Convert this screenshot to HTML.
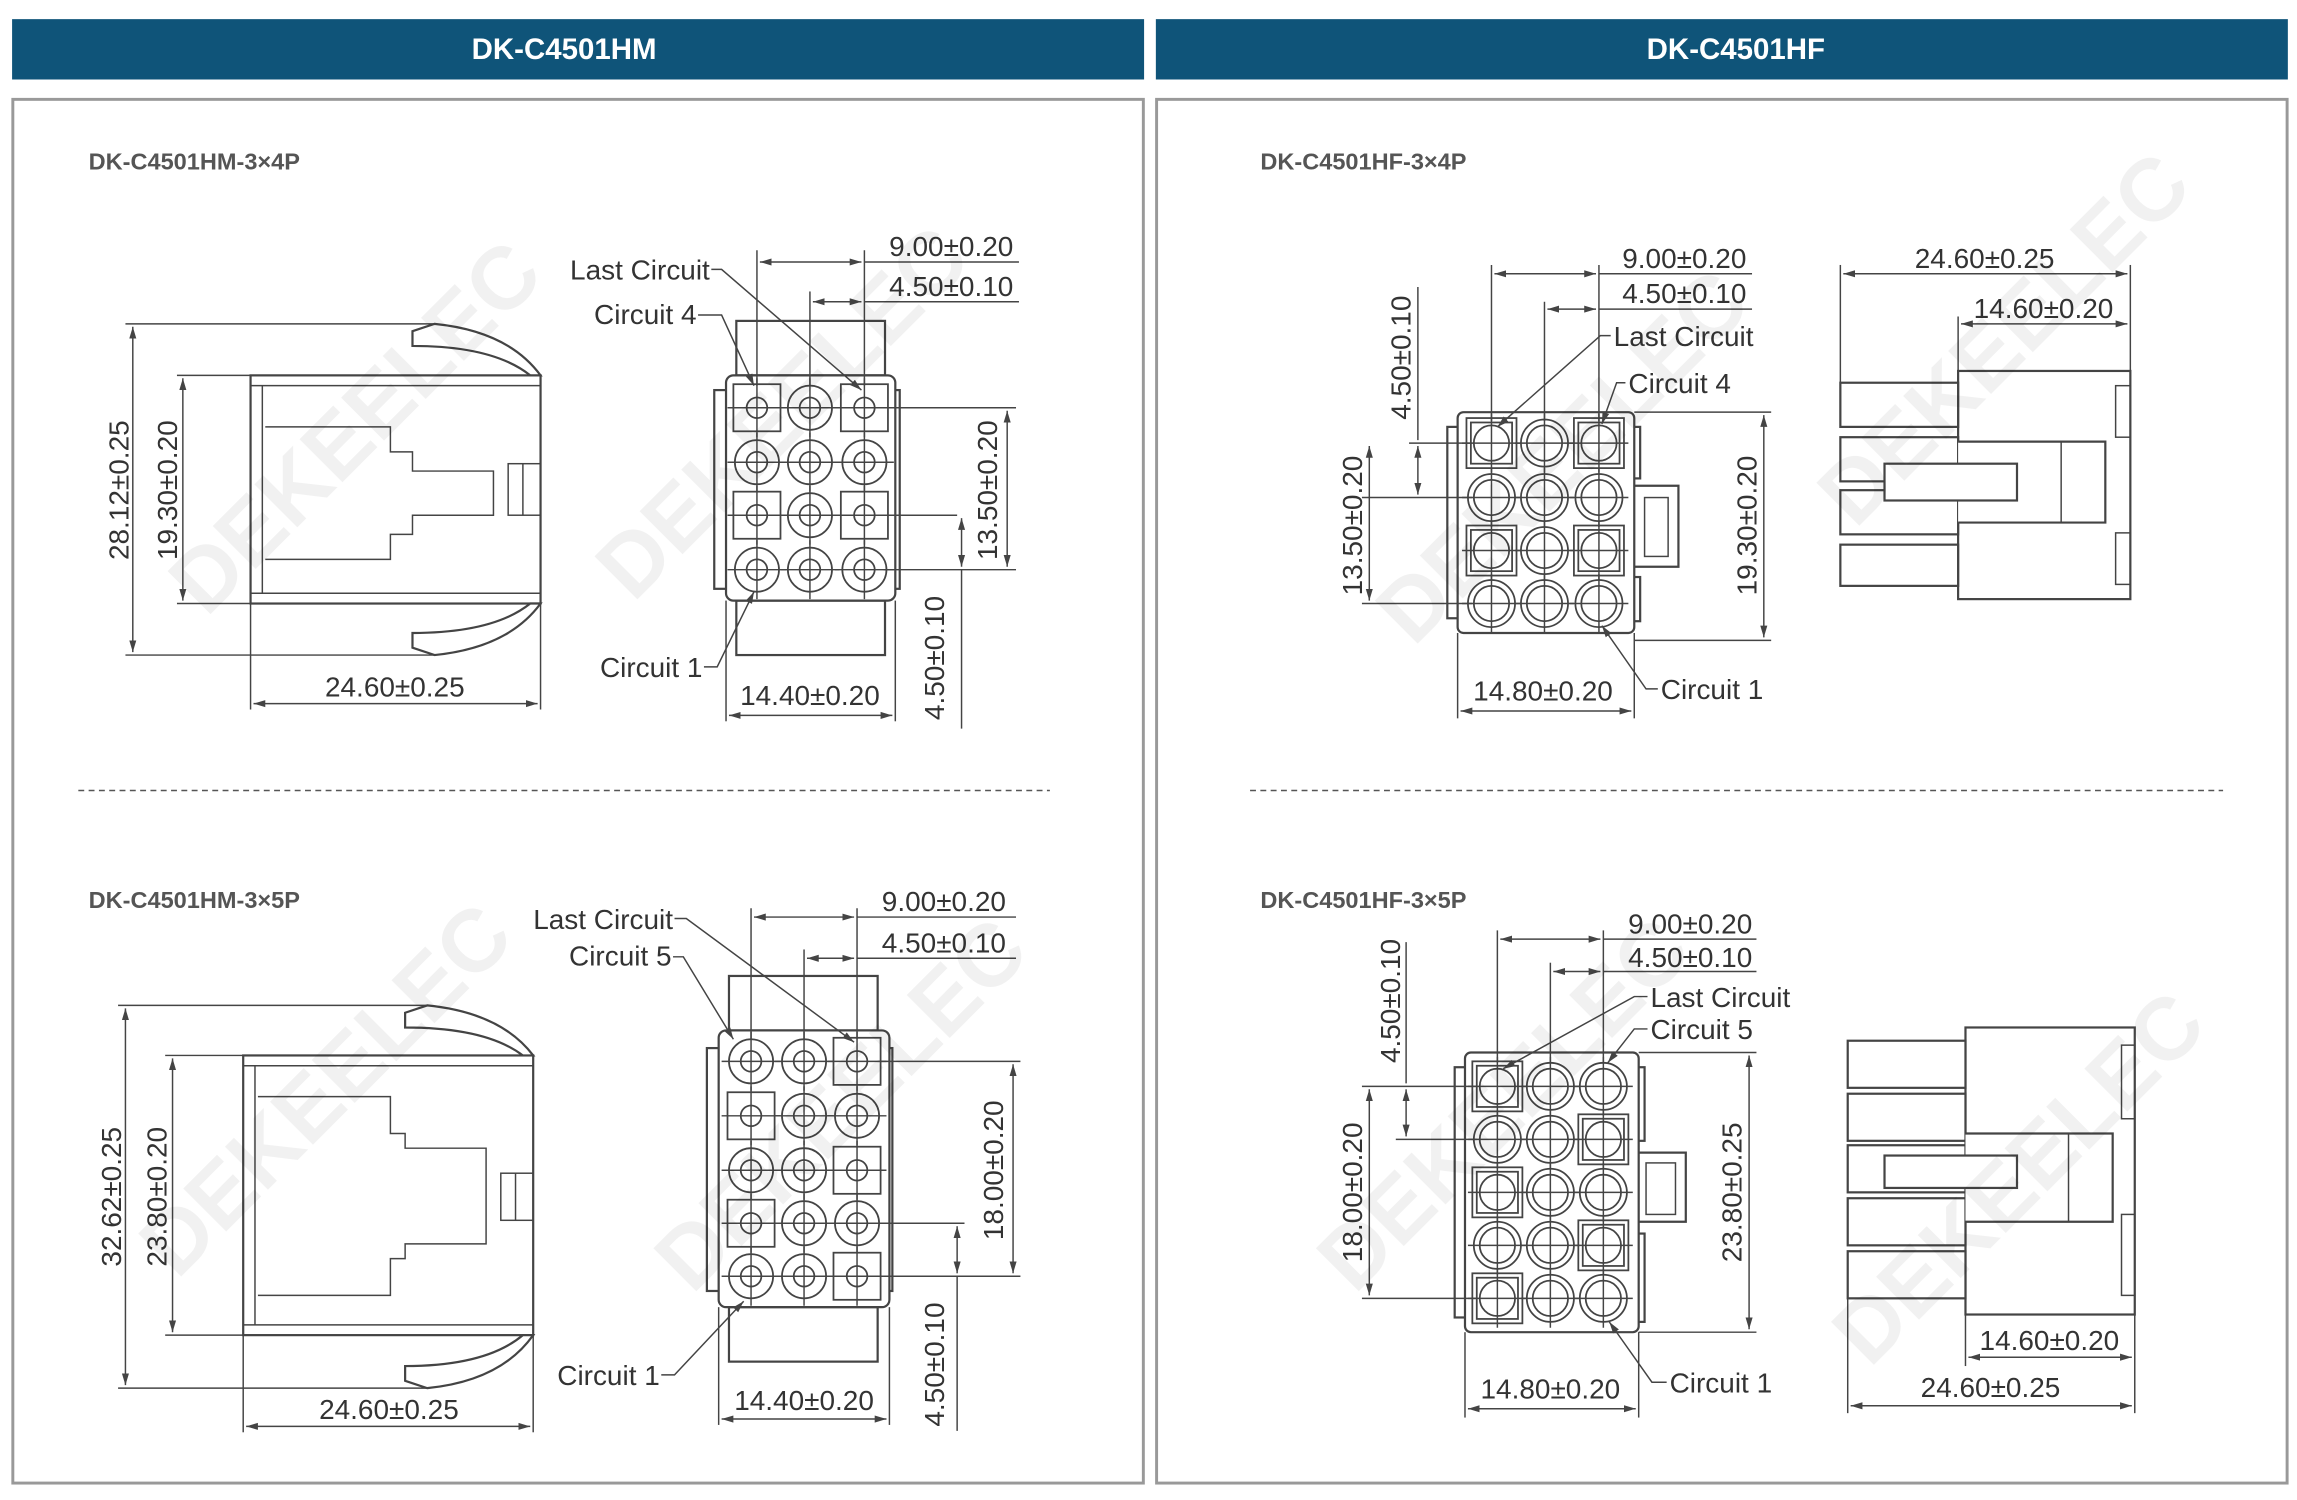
<!DOCTYPE html>
<html><head><meta charset="utf-8"><style>
html,body{margin:0;padding:0;background:#fff}
svg{display:block}
.t{font-family:"Liberation Sans Narrow","Liberation Sans",sans-serif;font-size:19px;fill:#333}
.h{font-family:"Liberation Sans",sans-serif;font-weight:bold;font-size:20px;fill:#fff}
.s{font-family:"Liberation Sans",sans-serif;font-weight:bold;font-size:16px;fill:#555}
.w{font-family:"Liberation Sans",sans-serif;font-weight:bold;font-size:60px;fill:#000;opacity:0.05}
.l{stroke:#444;stroke-width:1.2;fill:none}
.d{stroke:#444;stroke-width:1;fill:none}
.b{stroke:#444;stroke-width:1.5;fill:#fff}
</style></head><body>
<svg width="2297" height="1500" viewBox="0 0 1560 1019" xmlns="http://www.w3.org/2000/svg">
<defs>
<marker id="a" viewBox="0 0 10 10" refX="10" refY="5" markerWidth="8" markerHeight="8" orient="auto-start-reverse"><path d="M0,2 L10,5 L0,8z" fill="#444"/></marker>
<g id="pm"><circle r="15" class="l"/><circle r="7" class="l"/><path d="M-20,0H20M0,-20V20" class="d"/></g>
<g id="sm"><rect x="-16" y="-16" width="32" height="32" class="l"/><circle r="7" class="l"/><path d="M-20,0H20M0,-20V20" class="d"/></g>
<g id="pf"><circle r="16" class="l"/><circle r="12" class="l"/><path d="M-20,0H20M0,-20V20" class="d"/></g>
<g id="sf"><rect x="-17" y="-17" width="34" height="34" class="l"/><rect x="-14" y="-14" width="28" height="28" class="l"/><circle r="12" class="l"/><path d="M-20,0H20M0,-20V20" class="d"/></g>
</defs>
<rect width="1560" height="1019" fill="#fff"/>
<!-- headers -->
<rect x="8" y="13" width="769" height="41" fill="#0f5479"/>
<rect x="785" y="13" width="769" height="41" fill="#0f5479"/>
<text class="h" x="383" y="40" text-anchor="middle">DK-C4501HM</text>
<text class="h" x="1179" y="40" text-anchor="middle">DK-C4501HF</text>
<rect x="8.5" y="67.5" width="768" height="940" fill="none" stroke="#999" stroke-width="2"/>
<rect x="785.5" y="67.5" width="768" height="940" fill="none" stroke="#999" stroke-width="2"/>
<line x1="53" y1="537" x2="713" y2="537" stroke="#555" stroke-dasharray="4,3"/>
<line x1="849" y1="537" x2="1510" y2="537" stroke="#555" stroke-dasharray="4,3"/>
<text class="s" x="60" y="115">DK-C4501HM-3×4P</text>
<text class="s" x="60" y="617">DK-C4501HM-3×5P</text>
<text class="s" x="856" y="115">DK-C4501HF-3×4P</text>
<text class="s" x="856" y="617">DK-C4501HF-3×5P</text>

<!-- ===== HM 3x4 side ===== -->
<g>
<rect x="170" y="255" width="197" height="155" class="b"/>
<line x1="170" y1="262" x2="367" y2="262" class="d"/><line x1="170" y1="403" x2="367" y2="403" class="d"/>
<path d="M178,262V403" class="d"/>
<path d="M180,290H265V307H280V320H335V350H280V363H265V380H180" class="d"/>
<rect x="345" y="315" width="22" height="35" class="d"/><line x1="355" y1="315" x2="355" y2="350" class="d"/>
<path d="M280,225L295,220Q345,225 367,255H360Q335,235 280,235Z" class="b"/>
<path d="M280,440L295,445Q345,440 367,410H360Q335,430 280,430Z" class="b"/>
<line x1="85" y1="220" x2="295" y2="220" class="d"/><line x1="85" y1="445" x2="295" y2="445" class="d"/>
<line x1="90" y1="222" x2="90" y2="443" class="d" marker-start="url(#a)" marker-end="url(#a)"/>
<line x1="120" y1="255" x2="170" y2="255" class="d"/><line x1="120" y1="410" x2="170" y2="410" class="d"/>
<line x1="124" y1="257" x2="124" y2="408" class="d" marker-start="url(#a)" marker-end="url(#a)"/>
<text class="t" transform="translate(87,333) rotate(-90)" text-anchor="middle">28.12±0.25</text>
<text class="t" transform="translate(120,333) rotate(-90)" text-anchor="middle">19.30±0.20</text>
<line x1="170" y1="410" x2="170" y2="482" class="d"/><line x1="367" y1="410" x2="367" y2="482" class="d"/>
<line x1="172" y1="478" x2="365" y2="478" class="d" marker-start="url(#a)" marker-end="url(#a)"/>
<text class="t" x="268" y="473" text-anchor="middle">24.60±0.25</text>
</g>
<!-- HM 3x4 front -->
<g>
<rect x="500" y="218" width="101" height="37" class="b"/>
<rect x="500" y="408" width="101" height="37" class="b"/>
<rect x="485" y="265" width="10" height="135" class="b"/>
<rect x="605" y="265" width="6" height="135" class="b"/>
<rect x="493" y="255" width="115" height="153" rx="5" class="b"/>
<use href="#sm" x="514" y="277"/><use href="#pm" x="550" y="277"/><use href="#sm" x="587" y="277"/>
<use href="#pm" x="514" y="314"/><use href="#pm" x="550" y="314"/><use href="#pm" x="587" y="314"/>
<use href="#sm" x="514" y="350"/><use href="#pm" x="550" y="350"/><use href="#sm" x="587" y="350"/>
<use href="#pm" x="514" y="387"/><use href="#pm" x="550" y="387"/><use href="#pm" x="587" y="387"/>
<line x1="514" y1="170" x2="514" y2="262" class="d"/><line x1="587" y1="170" x2="587" y2="262" class="d"/><line x1="550" y1="198" x2="550" y2="262" class="d"/>
<line x1="516" y1="178" x2="585" y2="178" class="d" marker-start="url(#a)" marker-end="url(#a)"/><line x1="587" y1="178" x2="692" y2="178" class="d"/>
<line x1="552" y1="205" x2="585" y2="205" class="d" marker-start="url(#a)" marker-end="url(#a)"/><line x1="587" y1="205" x2="692" y2="205" class="d"/>
<text class="t" x="646" y="174" text-anchor="middle">9.00±0.20</text>
<text class="t" x="646" y="201" text-anchor="middle">4.50±0.10</text>
<line x1="600" y1="277" x2="690" y2="277" class="d"/><line x1="600" y1="387" x2="690" y2="387" class="d"/><line x1="600" y1="350" x2="650" y2="350" class="d"/>
<line x1="684" y1="279" x2="684" y2="385" class="d" marker-start="url(#a)" marker-end="url(#a)"/>
<line x1="653" y1="352" x2="653" y2="385" class="d" marker-start="url(#a)" marker-end="url(#a)"/><line x1="653" y1="387" x2="653" y2="495" class="d"/>
<text class="t" transform="translate(677,333) rotate(-90)" text-anchor="middle">13.50±0.20</text>
<text class="t" transform="translate(641,447) rotate(-90)" text-anchor="middle">4.50±0.10</text>
<line x1="493" y1="408" x2="493" y2="490" class="d"/><line x1="608" y1="408" x2="608" y2="490" class="d"/>
<line x1="495" y1="486" x2="606" y2="486" class="d" marker-start="url(#a)" marker-end="url(#a)"/>
<text class="t" x="550" y="479" text-anchor="middle">14.40±0.20</text>
<text class="t" x="482" y="190" text-anchor="end">Last Circuit</text><path d="M483,183H490L585,265" class="d" marker-end="url(#a)"/>
<text class="t" x="473" y="220" text-anchor="end">Circuit 4</text><path d="M474,214H490L512,262" class="d" marker-end="url(#a)"/>
<text class="t" x="477" y="460" text-anchor="end">Circuit 1</text><path d="M478,453H487L512,402" class="d" marker-end="url(#a)"/>
</g>

<!-- ===== HM 3x5 side ===== -->
<g>
<rect x="165" y="717" width="197" height="190" class="b"/>
<line x1="165" y1="724" x2="362" y2="724" class="d"/><line x1="165" y1="900" x2="362" y2="900" class="d"/>
<path d="M173,724V900" class="d"/>
<path d="M175,745H265V770H275V780H330V845H275V855H265V880H175" class="d"/>
<rect x="340" y="797" width="22" height="32" class="d"/><line x1="350" y1="797" x2="350" y2="829" class="d"/>
<path d="M275,688L290,683Q340,688 362,717H355Q330,698 275,698Z" class="b"/>
<path d="M275,938L290,943Q340,938 362,907H355Q330,928 275,928Z" class="b"/>
<line x1="80" y1="683" x2="290" y2="683" class="d"/><line x1="80" y1="943" x2="290" y2="943" class="d"/>
<line x1="85" y1="685" x2="85" y2="941" class="d" marker-start="url(#a)" marker-end="url(#a)"/>
<line x1="112" y1="717" x2="165" y2="717" class="d"/><line x1="112" y1="907" x2="165" y2="907" class="d"/>
<line x1="117" y1="719" x2="117" y2="905" class="d" marker-start="url(#a)" marker-end="url(#a)"/>
<text class="t" transform="translate(82,813) rotate(-90)" text-anchor="middle">32.62±0.25</text>
<text class="t" transform="translate(113,813) rotate(-90)" text-anchor="middle">23.80±0.20</text>
<line x1="165" y1="907" x2="165" y2="973" class="d"/><line x1="362" y1="907" x2="362" y2="973" class="d"/>
<line x1="167" y1="969" x2="360" y2="969" class="d" marker-start="url(#a)" marker-end="url(#a)"/>
<text class="t" x="264" y="964" text-anchor="middle">24.60±0.25</text>
</g>
<!-- HM 3x5 front -->
<g>
<rect x="495" y="663" width="101" height="37" class="b"/>
<rect x="495" y="888" width="101" height="37" class="b"/>
<rect x="480" y="712" width="10" height="165" class="b"/>
<rect x="600" y="712" width="6" height="165" class="b"/>
<rect x="488" y="700" width="116" height="188" rx="5" class="b"/>
<use href="#pm" x="510" y="721"/><use href="#pm" x="546" y="721"/><use href="#sm" x="582" y="721"/>
<use href="#sm" x="510" y="758"/><use href="#pm" x="546" y="758"/><use href="#pm" x="582" y="758"/>
<use href="#pm" x="510" y="795"/><use href="#pm" x="546" y="795"/><use href="#sm" x="582" y="795"/>
<use href="#sm" x="510" y="831"/><use href="#pm" x="546" y="831"/><use href="#pm" x="582" y="831"/>
<use href="#pm" x="510" y="867"/><use href="#pm" x="546" y="867"/><use href="#sm" x="582" y="867"/>
<line x1="510" y1="617" x2="510" y2="706" class="d"/><line x1="582" y1="617" x2="582" y2="706" class="d"/><line x1="546" y1="645" x2="546" y2="706" class="d"/>
<line x1="512" y1="623" x2="580" y2="623" class="d" marker-start="url(#a)" marker-end="url(#a)"/><line x1="582" y1="623" x2="690" y2="623" class="d"/>
<line x1="548" y1="651" x2="580" y2="651" class="d" marker-start="url(#a)" marker-end="url(#a)"/><line x1="582" y1="651" x2="690" y2="651" class="d"/>
<text class="t" x="641" y="619" text-anchor="middle">9.00±0.20</text>
<text class="t" x="641" y="647" text-anchor="middle">4.50±0.10</text>
<line x1="596" y1="721" x2="693" y2="721" class="d"/><line x1="596" y1="867" x2="693" y2="867" class="d"/><line x1="596" y1="831" x2="655" y2="831" class="d"/>
<line x1="688" y1="723" x2="688" y2="865" class="d" marker-start="url(#a)" marker-end="url(#a)"/>
<line x1="650" y1="833" x2="650" y2="865" class="d" marker-start="url(#a)" marker-end="url(#a)"/><line x1="650" y1="867" x2="650" y2="972" class="d"/>
<text class="t" transform="translate(681,795) rotate(-90)" text-anchor="middle">18.00±0.20</text>
<text class="t" transform="translate(641,927) rotate(-90)" text-anchor="middle">4.50±0.10</text>
<line x1="488" y1="888" x2="488" y2="968" class="d"/><line x1="604" y1="888" x2="604" y2="968" class="d"/>
<line x1="490" y1="964" x2="602" y2="964" class="d" marker-start="url(#a)" marker-end="url(#a)"/>
<text class="t" x="546" y="958" text-anchor="middle">14.40±0.20</text>
<text class="t" x="457" y="631" text-anchor="end">Last Circuit</text><path d="M458,624H466L580,708" class="d" marker-end="url(#a)"/>
<text class="t" x="456" y="656" text-anchor="end">Circuit 5</text><path d="M457,650H464L498,706" class="d" marker-end="url(#a)"/>
<text class="t" x="448" y="941" text-anchor="end">Circuit 1</text><path d="M449,934H458L505,884" class="d" marker-end="url(#a)"/>
</g>

<!-- ===== HF 3x4 front ===== -->
<g>
<rect x="983" y="290" width="8" height="130" class="b"/>
<rect x="1108" y="290" width="6" height="35" class="b"/><rect x="1108" y="392" width="6" height="30" class="b"/>
<path d="M1110,330H1140V385H1110" class="b"/><rect x="1117" y="338" width="16" height="40" class="d"/>
<rect x="990" y="280" width="120" height="150" rx="4" class="b"/>
<use href="#sf" x="1013" y="301"/><use href="#pf" x="1049" y="301"/><use href="#sf" x="1086" y="301"/>
<use href="#pf" x="1013" y="338"/><use href="#pf" x="1049" y="338"/><use href="#pf" x="1086" y="338"/>
<use href="#sf" x="1013" y="374"/><use href="#pf" x="1049" y="374"/><use href="#sf" x="1086" y="374"/>
<use href="#pf" x="1013" y="410"/><use href="#pf" x="1049" y="410"/><use href="#pf" x="1086" y="410"/>
<line x1="1013" y1="180" x2="1013" y2="286" class="d"/><line x1="1086" y1="180" x2="1086" y2="286" class="d"/><line x1="1049" y1="205" x2="1049" y2="286" class="d"/>
<line x1="1015" y1="186" x2="1084" y2="186" class="d" marker-start="url(#a)" marker-end="url(#a)"/><line x1="1086" y1="186" x2="1190" y2="186" class="d"/>
<line x1="1051" y1="210" x2="1084" y2="210" class="d" marker-start="url(#a)" marker-end="url(#a)"/><line x1="1086" y1="210" x2="1190" y2="210" class="d"/>
<text class="t" x="1144" y="182" text-anchor="middle">9.00±0.20</text>
<text class="t" x="1144" y="206" text-anchor="middle">4.50±0.10</text>
<line x1="963" y1="195" x2="963" y2="299" class="d"/><line x1="963" y1="303" x2="963" y2="336" class="d" marker-start="url(#a)" marker-end="url(#a)"/>
<line x1="957" y1="301" x2="1000" y2="301" class="d"/><line x1="925" y1="338" x2="1000" y2="338" class="d"/>
<line x1="925" y1="410" x2="1000" y2="410" class="d"/>
<line x1="930" y1="303" x2="930" y2="408" class="d" marker-start="url(#a)" marker-end="url(#a)"/>
<text class="t" transform="translate(958,243) rotate(-90)" text-anchor="middle">4.50±0.10</text>
<text class="t" transform="translate(925,357) rotate(-90)" text-anchor="middle">13.50±0.20</text>
<line x1="1110" y1="280" x2="1203" y2="280" class="d"/><line x1="1110" y1="435" x2="1203" y2="435" class="d"/>
<line x1="1198" y1="282" x2="1198" y2="433" class="d" marker-start="url(#a)" marker-end="url(#a)"/>
<text class="t" transform="translate(1193,357) rotate(-90)" text-anchor="middle">19.30±0.20</text>
<line x1="990" y1="430" x2="990" y2="488" class="d"/><line x1="1110" y1="430" x2="1110" y2="488" class="d"/>
<line x1="992" y1="483" x2="1108" y2="483" class="d" marker-start="url(#a)" marker-end="url(#a)"/>
<text class="t" x="1048" y="476" text-anchor="middle">14.80±0.20</text>
<text class="t" x="1096" y="235">Last Circuit</text><path d="M1094,228H1087L1017,290" class="d" marker-end="url(#a)"/>
<text class="t" x="1106" y="267">Circuit 4</text><path d="M1104,260H1098L1088,288" class="d" marker-end="url(#a)"/>
<text class="t" x="1128" y="475">Circuit 1</text><path d="M1126,468H1118L1088,425" class="d" marker-end="url(#a)"/>
</g>
<!-- HF 3x4 side -->
<g>
<rect x="1330" y="252" width="117" height="155" class="b"/>
<rect x="1437" y="262" width="10" height="35" class="d"/><rect x="1437" y="362" width="10" height="35" class="d"/>
<rect x="1250" y="260" width="80" height="30" class="b"/><rect x="1250" y="297" width="80" height="30" class="b"/>
<rect x="1250" y="333" width="80" height="30" class="b"/><rect x="1250" y="370" width="80" height="28" class="b"/>
<path d="M1330,300H1430V355H1330" class="b"/><rect x="1280" y="315" width="90" height="25" class="b"/>
<line x1="1400" y1="300" x2="1400" y2="355" class="d"/>
<line x1="1250" y1="180" x2="1250" y2="260" class="d"/><line x1="1447" y1="180" x2="1447" y2="252" class="d"/><line x1="1330" y1="215" x2="1330" y2="252" class="d"/>
<line x1="1252" y1="186" x2="1445" y2="186" class="d" marker-start="url(#a)" marker-end="url(#a)"/>
<line x1="1332" y1="220" x2="1445" y2="220" class="d" marker-start="url(#a)" marker-end="url(#a)"/>
<text class="t" x="1348" y="182" text-anchor="middle">24.60±0.25</text>
<text class="t" x="1388" y="216" text-anchor="middle">14.60±0.20</text>
</g>

<!-- ===== HF 3x5 front ===== -->
<g>
<rect x="988" y="725" width="8" height="170" class="b"/>
<rect x="1111" y="725" width="6" height="50" class="b"/><rect x="1111" y="838" width="6" height="60" class="b"/>
<path d="M1113,783H1145V830H1113" class="b"/><rect x="1118" y="790" width="20" height="35" class="d"/>
<rect x="995" y="715" width="118" height="190" rx="4" class="b"/>
<use href="#sf" x="1017" y="738"/><use href="#pf" x="1053" y="738"/><use href="#pf" x="1089" y="738"/>
<use href="#pf" x="1017" y="774"/><use href="#pf" x="1053" y="774"/><use href="#sf" x="1089" y="774"/>
<use href="#sf" x="1017" y="810"/><use href="#pf" x="1053" y="810"/><use href="#pf" x="1089" y="810"/>
<use href="#pf" x="1017" y="846"/><use href="#pf" x="1053" y="846"/><use href="#sf" x="1089" y="846"/>
<use href="#sf" x="1017" y="882"/><use href="#pf" x="1053" y="882"/><use href="#pf" x="1089" y="882"/>
<line x1="1017" y1="632" x2="1017" y2="722" class="d"/><line x1="1089" y1="632" x2="1089" y2="722" class="d"/><line x1="1053" y1="654" x2="1053" y2="722" class="d"/>
<line x1="1019" y1="638" x2="1087" y2="638" class="d" marker-start="url(#a)" marker-end="url(#a)"/><line x1="1089" y1="638" x2="1193" y2="638" class="d"/>
<line x1="1055" y1="660" x2="1087" y2="660" class="d" marker-start="url(#a)" marker-end="url(#a)"/><line x1="1089" y1="660" x2="1193" y2="660" class="d"/>
<text class="t" x="1148" y="634" text-anchor="middle">9.00±0.20</text>
<text class="t" x="1148" y="657" text-anchor="middle">4.50±0.10</text>
<line x1="955" y1="640" x2="955" y2="736" class="d"/><line x1="955" y1="740" x2="955" y2="772" class="d" marker-start="url(#a)" marker-end="url(#a)"/>
<line x1="925" y1="738" x2="1003" y2="738" class="d"/><line x1="948" y1="774" x2="1003" y2="774" class="d"/>
<line x1="925" y1="882" x2="1003" y2="882" class="d"/>
<line x1="930" y1="740" x2="930" y2="880" class="d" marker-start="url(#a)" marker-end="url(#a)"/>
<text class="t" transform="translate(951,680) rotate(-90)" text-anchor="middle">4.50±0.10</text>
<text class="t" transform="translate(925,810) rotate(-90)" text-anchor="middle">18.00±0.20</text>
<line x1="1113" y1="715" x2="1193" y2="715" class="d"/><line x1="1113" y1="905" x2="1193" y2="905" class="d"/>
<line x1="1188" y1="717" x2="1188" y2="903" class="d" marker-start="url(#a)" marker-end="url(#a)"/>
<text class="t" transform="translate(1183,810) rotate(-90)" text-anchor="middle">23.80±0.25</text>
<line x1="995" y1="905" x2="995" y2="963" class="d"/><line x1="1113" y1="905" x2="1113" y2="963" class="d"/>
<line x1="997" y1="957" x2="1111" y2="957" class="d" marker-start="url(#a)" marker-end="url(#a)"/>
<text class="t" x="1053" y="950" text-anchor="middle">14.80±0.20</text>
<text class="t" x="1121" y="684">Last Circuit</text><path d="M1119,677H1110L1021,726" class="d" marker-end="url(#a)"/>
<text class="t" x="1121" y="706">Circuit 5</text><path d="M1119,699H1110L1092,722" class="d" marker-end="url(#a)"/>
<text class="t" x="1134" y="946">Circuit 1</text><path d="M1132,939H1122L1093,898" class="d" marker-end="url(#a)"/>
</g>
<!-- HF 3x5 side -->
<g>
<rect x="1335" y="698" width="115" height="195" class="b"/>
<rect x="1441" y="710" width="9" height="50" class="d"/><rect x="1441" y="825" width="9" height="55" class="d"/>
<rect x="1255" y="707" width="80" height="32" class="b"/><rect x="1255" y="743" width="80" height="32" class="b"/>
<rect x="1255" y="778" width="80" height="32" class="b"/><rect x="1255" y="814" width="80" height="32" class="b"/>
<rect x="1255" y="850" width="80" height="32" class="b"/>
<path d="M1335,770H1435V830H1335" class="b"/><rect x="1280" y="785" width="90" height="22" class="b"/>
<line x1="1405" y1="770" x2="1405" y2="830" class="d"/>
<line x1="1255" y1="882" x2="1255" y2="960" class="d"/><line x1="1450" y1="893" x2="1450" y2="960" class="d"/><line x1="1335" y1="893" x2="1335" y2="928" class="d"/>
<line x1="1337" y1="922" x2="1448" y2="922" class="d" marker-start="url(#a)" marker-end="url(#a)"/>
<line x1="1257" y1="955" x2="1448" y2="955" class="d" marker-start="url(#a)" marker-end="url(#a)"/>
<text class="t" x="1392" y="917" text-anchor="middle">14.60±0.20</text>
<text class="t" x="1352" y="949" text-anchor="middle">24.60±0.25</text>
</g>

<!-- watermarks -->
<text class="w" transform="translate(140,420) rotate(-45)">DEKEELEC</text>
<text class="w" transform="translate(430,410) rotate(-45)">DEKEELEC</text>
<text class="w" transform="translate(120,870) rotate(-45)">DEKEELEC</text>
<text class="w" transform="translate(470,880) rotate(-45)">DEKEELEC</text>
<text class="w" transform="translate(960,440) rotate(-45)">DEKEELEC</text>
<text class="w" transform="translate(1260,360) rotate(-45)">DEKEELEC</text>
<text class="w" transform="translate(920,880) rotate(-45)">DEKEELEC</text>
<text class="w" transform="translate(1270,930) rotate(-45)">DEKEELEC</text>
</svg>
</body></html>
